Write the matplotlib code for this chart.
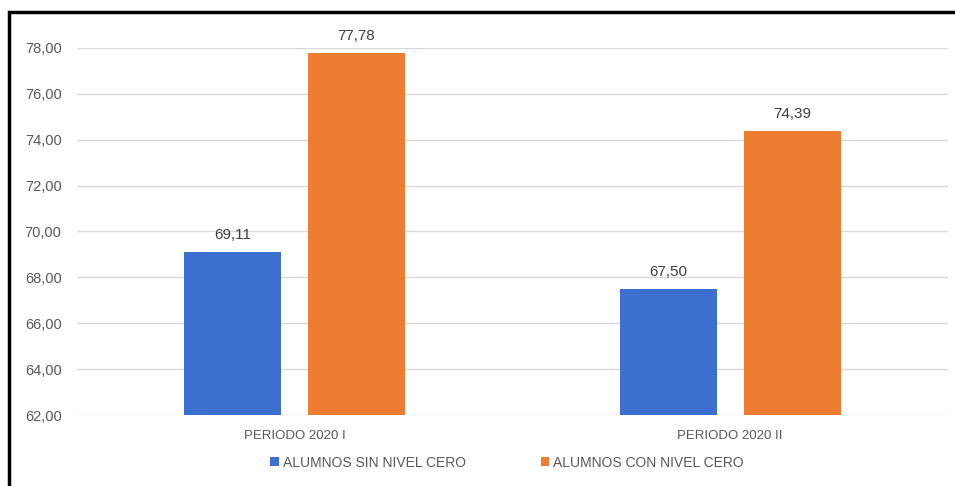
import matplotlib.pyplot as plt
import matplotlib.patches as mpatches
import numpy as np

plt.rcParams['font.family'] = ['Liberation Sans', 'DejaVu Sans']

periodos = ['PERIODO 2020 I', 'PERIODO 2020 II']
sin_nivel_cero = [69.11, 67.50]
con_nivel_cero = [77.78, 74.39]
series_names = ['ALUMNOS SIN NIVEL CERO', 'ALUMNOS CON NIVEL CERO']
y_ticks = [62, 64, 66, 68, 70, 72, 74, 76, 78]

blue = '#3d6fcf'
orange = '#ee7d31'
grey_text = '#595959'

fig = plt.figure(figsize=(9.55, 4.86), dpi=100)
ax = fig.add_axes([0.0804, 0.146, 0.9123, 0.7556])

x = np.arange(len(periodos))
w = 0.223
off = 0.142
b1 = ax.bar(x - off, sin_nivel_cero, w, color=blue, label=series_names[0], zorder=3)
b2 = ax.bar(x + off, con_nivel_cero, w, color=orange, label=series_names[1], zorder=3)

def fmt(v):
    return f'{v:.2f}'.replace('.', ',')

for bars in (b1, b2):
    for rect in bars:
        h = rect.get_height()
        ax.annotate(fmt(h), (rect.get_x() + rect.get_width() / 2, h),
                    xytext=(0, 7), textcoords='offset points',
                    ha='center', va='bottom', fontsize=11, color='#404040')

ax.set_xlim(-0.5, 1.5)
ax.set_ylim(62, 78)
ax.set_yticks(y_ticks)
ax.set_yticklabels([fmt(t) for t in y_ticks])
ax.set_xticks(x)
ax.set_xticklabels(periodos)
ax.tick_params(axis='both', length=0, colors=grey_text)
ax.tick_params(axis='y', pad=11, labelsize=10.5)
ax.tick_params(axis='x', pad=11, labelsize=9.5)
ax.grid(axis='y', color='#d9d9d9', linewidth=1, zorder=0)
for s in ax.spines.values():
    s.set_visible(False)

leg = fig.legend(handles=[b1, b2], labels=series_names, loc='center',
                 bbox_to_anchor=(0.531, 0.048), ncol=2, frameon=False,
                 fontsize=10, handlelength=0.6, handleheight=0.6,
                 handletextpad=0.3, columnspacing=5.4)
for t in leg.get_texts():
    t.set_color(grey_text)

# black frame of the cropped picture (left and top edges visible)
fig.add_artist(mpatches.Rectangle((9 / 955, -0.1), 1.2, 1 - 12 / 486 + 0.1,
                                  transform=fig.transFigure, fill=False,
                                  edgecolor='black', linewidth=2.5))

fig.savefig('out.png', dpi=100)
